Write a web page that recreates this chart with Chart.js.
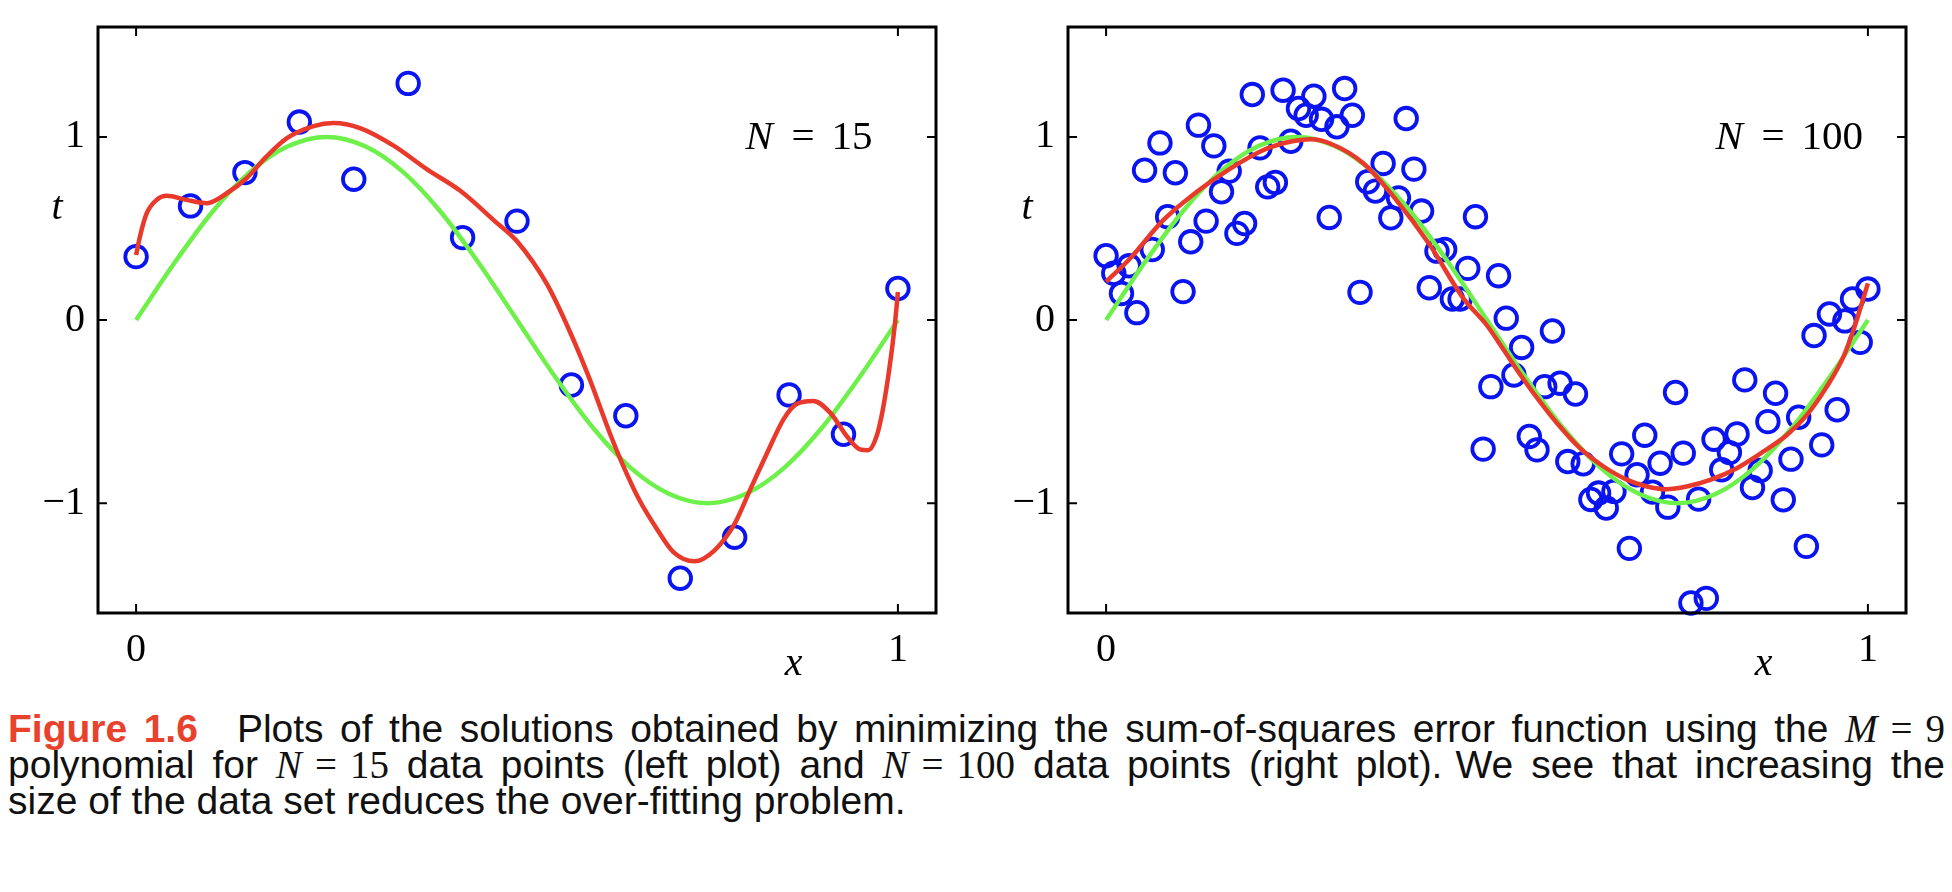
<!DOCTYPE html>
<html>
<head>
<meta charset="utf-8">
<script src="https://cdn.jsdelivr.net/npm/chart.js@4.4.1/dist/chart.umd.min.js"></script>
<style>
  html, body { margin: 0; padding: 0; background: #fff; }
  body { width: 1952px; height: 892px; position: relative; overflow: hidden; }
  .plot { position: absolute; top: 0; height: 700px; }
  #leftWrap { left: 0; width: 960px; }
  #rightWrap { left: 980px; width: 972px; }
  .caption {
    position: absolute; left: 8px; width: 1937px;
    font-family: "Liberation Sans", Helvetica, Arial, sans-serif;
    font-size: 39px; line-height: 36px; color: #111;
  }
  .caption .inner { display: inline-block; white-space: nowrap; transform-origin: left center; }
  .fig { color: #e8412c; font-weight: bold; }
  .m { font-family: "Liberation Serif", serif; }
  .mi { font-family: "Liberation Serif", serif; font-style: italic; }
</style>
</head>
<body>
<div class="plot" id="leftWrap"><canvas id="leftChart" width="960" height="700"></canvas></div>
<div class="plot" id="rightWrap"><canvas id="rightChart" width="972" height="700"></canvas></div>

<div class="caption just" style="top:711px"><span class="inner"><span class="fig">Figure 1.6</span>&#8195;Plots of the solutions obtained by minimizing the sum-of-squares error function using the <span class="mi">M</span><span class="m">&#8196;=&#8196;9</span></span></div>
<div class="caption just" style="top:747px"><span class="inner">polynomial for <span class="mi">N</span><span class="m">&#8196;=&#8196;15</span> data points (left plot) and <span class="mi">N</span><span class="m">&#8196;=&#8196;100</span> data points (right plot).&#8196;We see that increasing the</span></div>
<div class="caption" style="top:783px"><span class="inner">size of the data set reduces the over-fitting problem.</span></div>

<script>
// axes
const xTicks = [0, 1];
const yTicks = [-1, 0, 1];

// underlying curve (green)
const trueCurveX = [0, 0.05, 0.1, 0.15, 0.2, 0.25, 0.3, 0.35, 0.4, 0.45, 0.5,
                    0.55, 0.6, 0.65, 0.7, 0.75, 0.8, 0.85, 0.9, 0.95, 1];
const trueCurveY = [0, 0.31, 0.59, 0.81, 0.95, 1.0, 0.95, 0.81, 0.59, 0.31, 0,
                    -0.31, -0.59, -0.81, -0.95, -1.0, -0.95, -0.81, -0.59, -0.31, 0];

// left plot, N = 15 (points evenly spaced on [0, 1])
const leftPointsY = [0.346, 0.623, 0.805, 1.081, 0.769, 1.292, 0.45, 0.54,
                     -0.355, -0.523, -1.41, -1.186, -0.409, -0.624, 0.172];
const leftFitX = [0, 0.005, 0.014, 0.027, 0.040, 0.066, 0.093, 0.119, 0.145, 0.171,
                  0.198, 0.233, 0.259, 0.294, 0.338, 0.382, 0.426, 0.470, 0.500, 0.539,
                  0.569, 0.595, 0.622, 0.639, 0.661, 0.683, 0.705, 0.733, 0.759, 0.785,
                  0.807, 0.828, 0.850, 0.867, 0.889, 0.911, 0.933, 0.950, 0.961, 0.972,
                  0.980, 0.989, 0.996, 1.000];
const leftFitY = [0.355, 0.455, 0.583, 0.656, 0.678, 0.656, 0.638, 0.692, 0.774, 0.892,
                  0.993, 1.059, 1.076, 1.048, 0.952, 0.822, 0.704, 0.543, 0.430, 0.198,
                  -0.060, -0.319, -0.620, -0.792, -0.986, -1.137, -1.266, -1.318, -1.259, -1.118,
                  -0.918, -0.729, -0.541, -0.459, -0.442, -0.506, -0.635, -0.706, -0.711, -0.635,
                  -0.494, -0.259, -0.024, 0.153];

// right plot, N = 100 (points evenly spaced on [0, 1])
const rightPointsY = [
  0.351, 0.255, 0.145, 0.296, 0.040, 0.818, 0.385, 0.967, 0.564, 0.804,
  0.155, 0.427, 1.064, 0.540, 0.951, 0.700, 0.813, 0.473, 0.527, 1.231,
  0.940, 0.727, 0.751, 1.255, 0.976, 1.155, 1.118, 1.222, 1.096, 0.560,
  1.055, 1.264, 1.118, 0.151, 0.755, 0.704, 0.855, 0.558, 0.667, 1.100,
  0.824, 0.595, 0.176, 0.376, 0.385, 0.115, 0.115, 0.282, 0.564, -0.705,
  -0.364, 0.242, 0.010, -0.300, -0.150, -0.636, -0.709, -0.364, -0.060, -0.345,
  -0.773, -0.404, -0.785, -0.980, -0.945, -1.027, -0.936, -0.731, -1.247, -0.845,
  -0.629, -0.940, -0.782, -1.022, -0.396, -0.727, -1.545, -0.978, -1.520, -0.651,
  -0.818, -0.724, -0.622, -0.327, -0.915, -0.822, -0.555, -0.400, -0.982, -0.760,
  -0.531, -1.236, -0.085, -0.682, 0.033, -0.490, -0.005, 0.115, -0.122, 0.169
];
const rightFitX = [0, 0.0315, 0.075, 0.119, 0.163, 0.206, 0.241, 0.268, 0.294, 0.338,
                   0.381, 0.425, 0.469, 0.500, 0.522, 0.544, 0.566, 0.592, 0.622, 0.653,
                   0.684, 0.710, 0.736, 0.762, 0.793, 0.828, 0.863, 0.894, 0.920, 0.946,
                   0.968, 0.981, 1.000];
const rightFitY = [0.209, 0.336, 0.545, 0.700, 0.827, 0.927, 0.973, 0.987, 0.964, 0.855,
                   0.655, 0.409, 0.118, -0.030, -0.164, -0.300, -0.427, -0.564, -0.700, -0.800,
                   -0.873, -0.909, -0.924, -0.909, -0.873, -0.809, -0.718, -0.627, -0.518, -0.364,
                   -0.200, -0.055, 0.200];

const RED = "#e8392b";
const GREEN = "#6ef04a";
const BLUE = "#0a14f0";
const SERIF = "'Liberation Serif', 'Times New Roman', serif";

const toPoints = (xs, ys) => xs.map((x, i) => ({ x, y: ys[i] }));
const gridPoints = (ys) => ys.map((y, i) => ({ x: i / (ys.length - 1), y }));
const fmt = (v) => (v < 0 ? "\u2212" + Math.abs(v) : String(v));

// box, inward ticks, axis letters and the N label
const framePlugin = {
    id: "frame",
    afterDraw(chart, args, opts) {
        const { ctx, chartArea: a, scales: { x, y } } = chart;
        ctx.save();
        ctx.strokeStyle = "#000";
        ctx.lineWidth = 2;
        ctx.beginPath();
        x.ticks.forEach((t) => {
            const px = x.getPixelForValue(t.value);
            ctx.moveTo(px, a.bottom); ctx.lineTo(px, a.bottom - 9);
            ctx.moveTo(px, a.top); ctx.lineTo(px, a.top + 9);
        });
        y.ticks.forEach((t) => {
            const py = y.getPixelForValue(t.value);
            ctx.moveTo(a.left, py); ctx.lineTo(a.left + 9, py);
            ctx.moveTo(a.right, py); ctx.lineTo(a.right - 9, py);
        });
        ctx.stroke();
        ctx.lineWidth = 3;
        ctx.strokeRect(a.left, a.top, a.right - a.left, a.bottom - a.top);

        ctx.fillStyle = "#000";
        ctx.font = "italic 40px " + SERIF;
        ctx.textAlign = "center";
        ctx.textBaseline = "middle";
        ctx.fillText("t", a.left - 41, y.getPixelForValue(opts.tAt));
        ctx.textBaseline = "alphabetic";
        ctx.fillText("x", x.getPixelForValue(opts.xAt), a.bottom + 62);

        const nx = x.getPixelForValue(opts.nAt[0]);
        const ny = y.getPixelForValue(opts.nAt[1]);
        ctx.textAlign = "left";
        ctx.textBaseline = "middle";
        ctx.font = "italic 41px " + SERIF;
        ctx.fillText("N", nx, ny);
        ctx.font = "41px " + SERIF;
        ctx.fillText("=", nx + 46, ny);
        ctx.fillText(opts.count, nx + 86, ny);
        ctx.restore();
    }
};

const makeChart = (id, pointsY, fitX, fitY, count, axisWidth, rightPad) => {
    const tickFont = { family: SERIF, size: 40 };
    return new Chart(document.getElementById(id), {
        type: "scatter",
        data: {
            datasets: [
                {
                    label: "fit", data: toPoints(fitX, fitY), showLine: true,
                    borderColor: RED, borderWidth: 4.5, pointRadius: 0,
                    cubicInterpolationMode: "monotone", order: 1
                },
                {
                    label: "sin", data: toPoints(trueCurveX, trueCurveY), showLine: true,
                    borderColor: GREEN, borderWidth: 4.5, pointRadius: 0,
                    cubicInterpolationMode: "monotone", order: 2
                },
                {
                    label: "data", data: gridPoints(pointsY), showLine: false,
                    pointStyle: "circle", pointRadius: 10.8, pointBorderWidth: 3.8,
                    pointBorderColor: BLUE, pointBackgroundColor: "rgba(0,0,0,0)",
                    clip: false, order: 3
                }
            ]
        },
        options: {
            responsive: false,
            devicePixelRatio: 1,
            animation: false,
            events: [],
            layout: { padding: { top: 27, right: rightPad, bottom: 0, left: 0 } },
            plugins: {
                legend: { display: false },
                tooltip: { enabled: false },
                frame: { tAt: 0.61, xAt: 0.863, nAt: [0.80, 0.99], count: count }
            },
            scales: {
                x: {
                    type: "linear", min: -0.05, max: 1.05,
                    afterBuildTicks: (s) => { s.ticks = xTicks.map((v) => ({ value: v })); },
                    afterFit: (s) => { s.height = 87; s.paddingLeft = 0; s.paddingRight = 0; },
                    grid: { display: false, drawTicks: false },
                    border: { display: false },
                    ticks: { font: tickFont, color: "#000", padding: 13, maxRotation: 0, autoSkip: false, callback: fmt }
                },
                y: {
                    type: "linear", min: -1.6, max: 1.6,
                    afterBuildTicks: (s) => { s.ticks = yTicks.map((v) => ({ value: v })); },
                    afterFit: (s) => { s.width = axisWidth; s.paddingTop = 0; s.paddingBottom = 0; },
                    grid: { display: false, drawTicks: false },
                    border: { display: false },
                    ticks: { font: tickFont, color: "#000", padding: 13, autoSkip: false, callback: fmt }
                }
            }
        },
        plugins: [framePlugin]
    });
};

makeChart("leftChart", leftPointsY, leftFitX, leftFitY, "15", 98, 24);
makeChart("rightChart", rightPointsY, rightFitX, rightFitY, "100", 88, 46);

// justify the first two caption lines to the full width
const captionWidth = 1937;
document.querySelectorAll(".caption").forEach((line) => {
    const inner = line.querySelector(".inner");
    const natural = inner.getBoundingClientRect().width;
    if (natural > captionWidth) {
        inner.style.transform = "scaleX(" + (captionWidth / natural) + ")";
    } else if (line.classList.contains("just")) {
        const spaces = (inner.textContent.match(/ /g) || []).length;
        inner.style.wordSpacing = ((captionWidth - natural) / spaces) + "px";
    }
});
</script>
</body>
</html>
